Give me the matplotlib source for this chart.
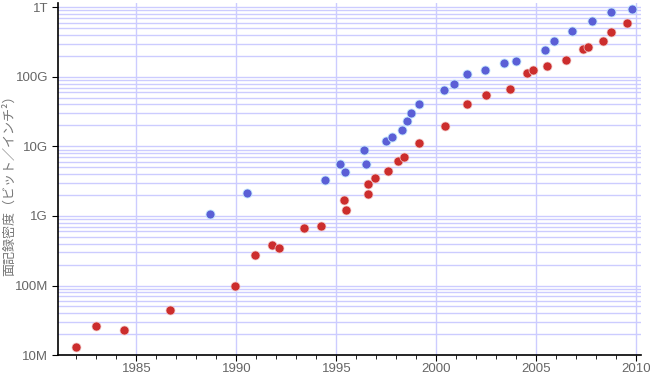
import matplotlib.pyplot as plt
from matplotlib.ticker import FixedLocator, MultipleLocator, LogLocator, NullFormatter

plt.rcParams['font.family'] = ['Liberation Sans', 'Noto Sans CJK JP', 'DejaVu Sans']

# blue series
blue_year = [1988.7, 1990.53, 1994.43, 1995.17, 1995.42, 1996.37, 1996.49, 1997.49,
             1997.79, 1998.27, 1998.54, 1998.74, 1999.14, 2000.4, 2000.87, 2001.54,
             2002.44, 2003.39, 2003.99, 2005.44, 2005.87, 2006.77, 2007.77, 2008.74,
             2009.77]
blue_val = [1.07e9, 2.16e9, 3.3e9, 5.6e9, 4.3e9, 8.9e9, 5.6e9, 1.2e10,
            1.38e10, 1.73e10, 2.35e10, 3.0e10, 4.13e10, 6.56e10, 8.0e10, 1.1e11,
            1.26e11, 1.59e11, 1.70e11, 2.44e11, 3.3e11, 4.6e11, 6.4e11, 8.6e11,
            9.5e11]

# red series
red_year = [1982.0, 1983.0, 1984.4, 1986.7, 1989.92, 1990.92, 1991.79, 1992.14,
            1993.39, 1994.24, 1995.37, 1995.47, 1996.59, 1996.6, 1996.95, 1997.57,
            1998.07, 1998.37, 1999.14, 2000.44, 2001.52, 2002.47, 2003.7, 2004.55,
            2004.82, 2005.52, 2006.47, 2007.32, 2007.57, 2008.32, 2008.72, 2009.52]
red_val = [1.3e7, 2.6e7, 2.3e7, 4.5e7, 9.8e7, 2.75e8, 3.87e8, 3.5e8,
           6.7e8, 7.1e8, 1.68e9, 1.22e9, 2.88e9, 2.1e9, 3.5e9, 4.4e9,
           6.1e9, 7.1e9, 1.11e10, 1.95e10, 4.05e10, 5.46e10, 6.66e10, 1.13e11,
           1.26e11, 1.43e11, 1.74e11, 2.5e11, 2.67e11, 3.27e11, 4.4e11, 5.93e11]

y_ticks = [1e7, 1e8, 1e9, 1e10, 1e11, 1e12]
y_labels = ['10M', '100M', '1G', '10G', '100G', '1T']

fig = plt.figure(figsize=(6.5, 3.75), dpi=100)
ax = fig.add_axes([0.0888, 0.053, 0.897, 0.939])

grid_c = '#ccccff'
ax.scatter(blue_year, blue_val, s=42, color='#5b5fd6', edgecolors='#bfe6ff',
           linewidths=0.6, zorder=3)
ax.scatter(red_year, red_val, s=42, color='#cc2d2d', edgecolors='#f0c8c8',
           linewidths=0.5, zorder=3)

ax.set_yscale('log')
ax.set_xlim(1981.07, 2010.22)
ax.set_ylim(1e7, 1.15e12)

ax.xaxis.set_major_locator(MultipleLocator(5))
ax.xaxis.set_minor_locator(MultipleLocator(1))
ax.yaxis.set_major_locator(FixedLocator(y_ticks))
ax.set_yticklabels(y_labels)
ax.yaxis.set_minor_locator(LogLocator(base=10, subs=range(2, 10), numticks=20))
ax.yaxis.set_minor_formatter(NullFormatter())

ax.grid(True, which='major', axis='both', color=grid_c, linewidth=1)
ax.grid(True, which='minor', axis='y', color=grid_c, linewidth=1)
ax.set_axisbelow(True)

for s in ['top', 'right']:
    ax.spines[s].set_visible(False)
ax.spines['left'].set_linewidth(1.2)
ax.spines['bottom'].set_linewidth(1.2)

ax.tick_params(axis='both', which='major', labelsize=9.5, labelcolor='#666666',
               direction='out', length=4, color='black', pad=3)
ax.tick_params(axis='x', which='major', pad=2)
ax.tick_params(axis='x', which='minor', direction='out', length=3, color='black')
ax.tick_params(axis='y', which='minor', length=0)

ax.set_ylabel('面記録密度（ビット／インチ²）', fontsize=9.4, color='#777777',
              family=['Noto Sans CJK JP', 'DejaVu Sans'])
ax.yaxis.set_label_coords(-0.072, 0.49)

fig.savefig('out.png', dpi=100)
